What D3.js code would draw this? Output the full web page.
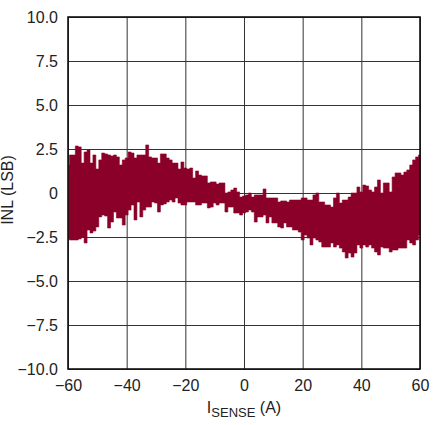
<!DOCTYPE html>
<html>
<head>
<meta charset="utf-8">
<script src="https://cdn.jsdelivr.net/npm/d3@7"></script>
<style>
  html, body { margin: 0; padding: 0; background: #fff; }
  svg { display: block; }
  text { font-family: "Liberation Sans", Arial, Helvetica, sans-serif; fill: #222; }
</style>
</head>
<body>
<svg id="chart" width="445" height="425"></svg>
<script>
// Sense current (A), one sample per amp
const current = d3.range(-60, 61, 1);

// Upper edge of the INL noise band (LSB) at each current
const inlHigh = [
  1.59, 2.16, 2.16, 2.67, 2.62, 1.70, 2.33, 2.44, 1.70, 2.16,
  1.36, 1.88, 2.27, 2.22, 2.16, 2.10, 2.16, 2.05, 1.59, 1.88,
  1.99, 2.33, 2.27, 1.99, 2.16, 2.16, 2.16, 2.73, 2.05, 1.99,
  1.99, 1.70, 2.22, 2.22, 1.99, 1.88, 1.70, 1.70, 1.36, 1.76,
  1.42, 1.36, 1.42, 0.85, 1.25, 1.02, 0.97, 0.97, 0.57, 0.63,
  0.63, 0.51, 0.57, 0.57, 0.00, 0.06, 0.17, 0.28, 0.06, -0.23,
  -0.17, -0.11, 0.00, -0.23, -0.11, -0.11, -0.11, 0.23, -0.28, -0.28,
  -0.28, -0.28, -0.51, -0.45, -0.45, -0.51, -0.40, -0.40, -0.40, -0.40,
  -0.28, -0.28, -0.40, -0.40, -0.11, 0.00, -0.51, -0.51, -0.68, -0.68,
  -0.80, -0.28, 0.00, -0.57, -0.40, -0.40, -0.23, 0.00, 0.00, 0.34,
  0.06, 0.45, 0.40, 0.17, 0.06, 0.34, 0.74, 0.00, 0.57, 0.57,
  0.06, 0.91, 1.14, 1.14, 1.02, 1.19, 1.31, 1.59, 1.88, 2.05,
  2.16
];

// Lower edge of the INL noise band (LSB) at each current
const inlLow = [
  -2.61, -2.67, -2.67, -2.67, -2.61, -2.50, -2.84, -2.10, -2.27, -2.16,
  -1.93, -1.36, -1.25, -1.31, -1.99, -1.65, -1.08, -1.42, -1.42, -1.82,
  -1.25, -0.97, -0.68, -1.53, -0.51, -1.36, -0.97, -0.80, -0.80, -0.51,
  -0.57, -1.08, -0.68, -0.62, -0.51, -0.40, -0.51, -0.28, -0.57, -0.68,
  -0.68, -0.51, -0.51, -0.51, -0.68, -0.68, -0.57, -0.57, -0.85, -0.80,
  -0.57, -0.68, -0.57, -0.57, -1.08, -0.80, -0.80, -1.14, -1.14, -1.25,
  -1.14, -1.08, -0.97, -1.08, -1.65, -1.36, -1.36, -1.25, -1.70, -1.36,
  -1.70, -1.70, -1.93, -1.99, -1.70, -1.93, -1.93, -2.10, -2.10, -2.22,
  -2.67, -2.39, -2.56, -2.95, -2.56, -2.67, -2.78, -3.07, -3.07, -3.07,
  -2.84, -3.07, -2.95, -3.13, -3.35, -3.69, -3.41, -3.64, -3.41, -2.95,
  -3.13, -2.95, -3.07, -2.95, -3.13, -3.35, -3.52, -3.07, -3.13, -3.13,
  -3.35, -3.24, -3.24, -3.13, -3.13, -3.13, -2.67, -2.84, -2.95, -2.67,
  -2.39
];

const xTicks = [-60, -40, -20, 0, 20, 40, 60];
const yTicks = [-10, -7.5, -5, -2.5, 0, 2.5, 5, 7.5, 10];

const band = current.map((c, i) => ({ c, hi: inlHigh[i], lo: inlLow[i] }));

const svg = d3.select("#chart");
const plot = { left: 68, right: 420, top: 17, bottom: 369 };
const w = plot.right - plot.left, h = plot.bottom - plot.top;

const x = d3.scaleLinear().domain([-60, 60]).range([plot.left, plot.right]);
const y = d3.scaleLinear().domain([-10, 10]).range([plot.bottom, plot.top]);

const fmtY = v => v === 0 ? "0" : d3.format(".1f")(v).replace("-", "\u2212");
const fmtX = v => String(v).replace("-", "\u2212");

// grid + tick labels
const gx = svg.append("g")
  .attr("transform", `translate(0,${plot.bottom})`)
  .call(d3.axisBottom(x).tickValues(xTicks).tickSize(-h).tickPadding(11).tickFormat(fmtX));
const gy = svg.append("g")
  .attr("transform", `translate(${plot.left},0)`)
  .call(d3.axisLeft(y).tickValues(yTicks).tickSize(-w).tickPadding(10).tickFormat(fmtY));

[gx, gy].forEach(g => {
  g.select(".domain").remove();
  g.selectAll(".tick line").attr("stroke", "#333").attr("stroke-width", 1);
  g.selectAll(".tick text").attr("font-size", 16).attr("fill", "#222")
    .style("font-family", '"Liberation Sans", Arial, sans-serif');
});

// clip the band to the plotting area
svg.append("clipPath").attr("id", "plotClip")
  .append("rect").attr("x", plot.left).attr("y", plot.top).attr("width", w).attr("height", h);

const area = d3.area()
  .x(d => x(d.c))
  .y0(d => y(d.lo))
  .y1(d => y(d.hi))
  .curve(d3.curveStep);

svg.append("path")
  .datum(band)
  .attr("clip-path", "url(#plotClip)")
  .attr("d", area)
  .attr("fill", "#8b0029")
  .attr("stroke", "#8b0029")
  .attr("stroke-width", 0.6);

// frame
svg.append("rect")
  .attr("x", plot.left).attr("y", plot.top)
  .attr("width", w).attr("height", h)
  .attr("fill", "none").attr("stroke", "#111").attr("stroke-width", 1.6);

// x-axis title with subscript
const xt = svg.append("text")
  .attr("x", x(0)).attr("y", 413)
  .attr("text-anchor", "middle")
  .attr("font-size", 16);
xt.append("tspan").text("I");
xt.append("tspan").attr("font-size", 13).attr("dy", 4).text("SENSE");
xt.append("tspan").attr("dy", -4).text(" (A)");

// y-axis title
svg.append("text")
  .attr("transform", `translate(13,190) rotate(-90)`)
  .attr("text-anchor", "middle")
  .attr("font-size", 16)
  .text("INL (LSB)");
</script>
</body>
</html>
